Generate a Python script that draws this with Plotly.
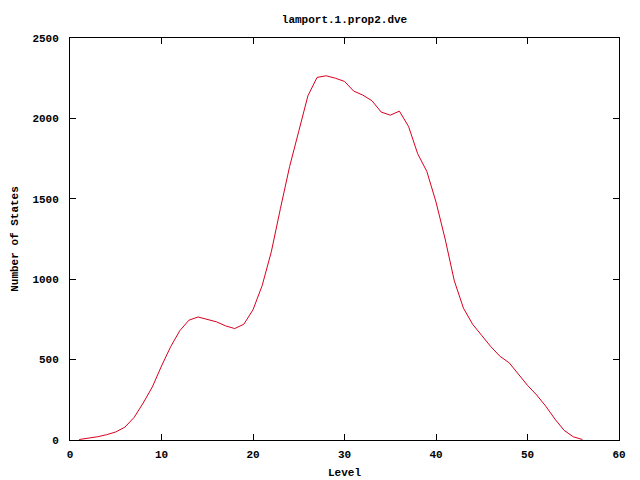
import plotly.graph_objects as go

levels = list(range(1, 57))
states = [3, 10, 20, 33, 50, 80, 140, 230, 330, 460, 580, 680, 745, 765, 752, 735, 710, 693, 720, 810,
          960, 1170, 1440, 1700, 1920, 2140, 2255, 2265, 2250, 2230, 2170, 2145, 2110, 2040, 2020, 2045,
          1950, 1780, 1670, 1480, 1250, 990, 820, 720, 650, 580, 520, 480, 410, 340, 280, 210,
          130, 60, 20, 3]

title_text = "lamport.1.prop2.dve"
x_title = "Level"
y_title = "Number of States"

font = dict(family="Liberation Mono, DejaVu Sans Mono, monospace", size=11, color="black", weight="bold")

fig = go.Figure()
fig.add_trace(go.Scatter(x=levels, y=states, mode="lines",
                         line=dict(color="#d8001e", width=1), showlegend=False))

axis_common = dict(showgrid=False, zeroline=False, showline=True, linecolor="black", linewidth=1,
                   mirror="allticks", ticks="inside", ticklen=6, tickcolor="black", tickwidth=1,
                   tickfont=font, automargin=False)

fig.update_layout(
    width=640, height=480,
    margin=dict(l=70, r=21, t=38, b=40),
    paper_bgcolor="white", plot_bgcolor="white",
    title=dict(text=title_text, x=(70 + 619) / 2 / 640, xanchor="center", y=1 - 19 / 480, yanchor="middle",
               font=font),
    font=font,
)
fig.update_xaxes(range=[0, 60], tick0=0, dtick=10, ticklabelstandoff=4,
                 title=dict(text=x_title, font=font, standoff=8), **axis_common)
fig.update_yaxes(range=[0, 2500], tick0=0, dtick=500, ticklabelstandoff=8,
                 title=dict(text=y_title, font=font, standoff=11), **axis_common)

fig.write_html("out.html", config={"displayModeBar": False},
               post_script="document.body.style.margin='0px';")
